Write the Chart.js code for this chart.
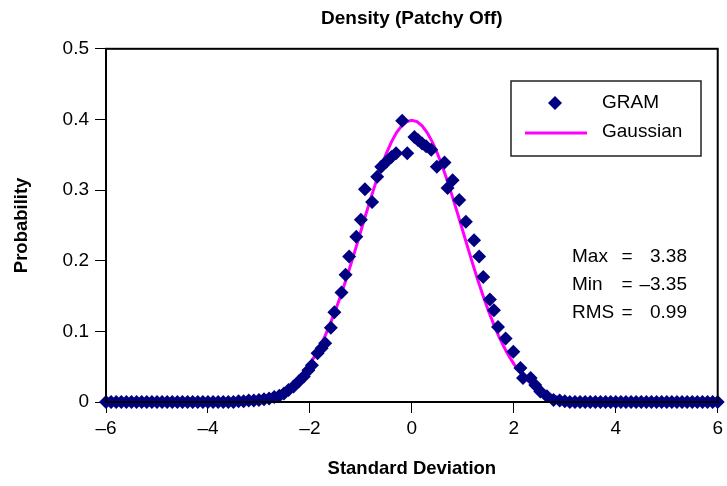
<!DOCTYPE html>
<html>
<head>
<meta charset="utf-8">
<title>Density (Patchy Off)</title>
<script src="https://cdn.jsdelivr.net/npm/chart.js@4.4.1/dist/chart.umd.min.js"></script>
<style>
  html, body { margin: 0; padding: 0; background: #fff; }
  #chart { display: block; }
</style>
</head>
<body>
<canvas id="chart" width="727" height="486"></canvas>
<script>
// GRAM histogram points
const gramX = [
    -6.0, -5.9, -5.8, -5.7, -5.6, -5.5, -5.4, -5.3, -5.2, -5.1,
    -5.0, -4.9, -4.8, -4.7, -4.6, -4.5, -4.4, -4.3, -4.2, -4.1,
    -4.0, -3.9, -3.8, -3.7, -3.6, -3.5, -3.4, -3.3, -3.2, -3.1,
    -3.0, -2.9, -2.8, -2.7, -2.6,
    -2.51, -2.42, -2.32, -2.22, -2.12, -2.03, -1.96, -1.85, -1.77, -1.70,
    -1.59, -1.52, -1.38, -1.30, -1.23, -1.09, -1.00, -0.92, -0.78, -0.68,
    -0.60, -0.50, -0.40, -0.31, -0.19, -0.09, 0.05, 0.12, 0.20, 0.28,
    0.38, 0.49, 0.64, 0.70, 0.80, 0.93, 1.06, 1.22, 1.32, 1.40,
    1.53, 1.61, 1.69, 1.84, 1.99, 2.13, 2.18, 2.33, 2.42, 2.52,
    2.65, 2.78,
    2.9, 3.0, 3.1, 3.2, 3.3, 3.4, 3.5, 3.6, 3.7, 3.8, 3.9,
    4.0, 4.1, 4.2, 4.3, 4.4, 4.5, 4.6, 4.7, 4.8, 4.9,
    5.0, 5.1, 5.2, 5.3, 5.4, 5.5, 5.6, 5.7, 5.8, 5.9, 6.0
];
const gramY = [
    0, 0, 0, 0, 0, 0, 0, 0, 0, 0,
    0, 0, 0, 0, 0, 0, 0, 0, 0, 0,
    0, 0, 0, 0, 0, 0, 0.001, 0.001, 0.002, 0.002,
    0.003, 0.004, 0.005, 0.007, 0.009,
    0.012, 0.017, 0.022, 0.029, 0.036, 0.045, 0.052, 0.069, 0.076, 0.083,
    0.105, 0.127, 0.155, 0.180, 0.206, 0.234, 0.258, 0.301, 0.283, 0.319,
    0.333, 0.340, 0.347, 0.352, 0.398, 0.352, 0.375, 0.371, 0.366, 0.362,
    0.357, 0.333, 0.339, 0.303, 0.314, 0.286, 0.255, 0.229, 0.206, 0.177,
    0.145, 0.130, 0.106, 0.090, 0.071, 0.048, 0.034, 0.034, 0.024, 0.015,
    0.008, 0.003,
    0.002, 0.001, 0, 0, 0, 0, 0, 0, 0, 0, 0,
    0, 0, 0, 0, 0, 0, 0, 0, 0, 0,
    0, 0, 0, 0, 0, 0, 0, 0, 0, 0, 0
];

// Gaussian reference curve
const gaussX = [
    -6.0,
    -4.0, -3.9, -3.8, -3.7, -3.6, -3.5, -3.4, -3.3, -3.2, -3.1,
    -3.0, -2.9, -2.8, -2.7, -2.6, -2.5, -2.4, -2.3, -2.2, -2.1,
    -2.0, -1.9, -1.8, -1.7, -1.6, -1.5, -1.4, -1.3, -1.2, -1.1,
    -1.0, -0.9, -0.8, -0.7, -0.6, -0.5, -0.4, -0.3, -0.2, -0.1,
    0.0,
    0.1, 0.2, 0.3, 0.4, 0.5, 0.6, 0.7, 0.8, 0.9, 1.0,
    1.1, 1.2, 1.3, 1.4, 1.5, 1.6, 1.7, 1.8, 1.9, 2.0,
    2.1, 2.2, 2.3, 2.4, 2.5, 2.6, 2.7, 2.8, 2.9, 3.0,
    3.1, 3.2, 3.3, 3.4, 3.5, 3.6, 3.7, 3.8, 3.9, 4.0,
    6.0
];
const gaussY = [
    0,
    0.0001, 0.0002, 0.0003, 0.0004, 0.0006, 0.0009, 0.0012, 0.0017, 0.0024, 0.0033,
    0.0044, 0.0060, 0.0079, 0.0104, 0.0136, 0.0175, 0.0224, 0.0283, 0.0355, 0.0440,
    0.0540, 0.0656, 0.0790, 0.0940, 0.1109, 0.1295, 0.1497, 0.1714, 0.1942, 0.2179,
    0.2420, 0.2661, 0.2897, 0.3123, 0.3332, 0.3521, 0.3683, 0.3814, 0.3910, 0.3970,
    0.3989,
    0.3970, 0.3910, 0.3814, 0.3683, 0.3521, 0.3332, 0.3123, 0.2897, 0.2661, 0.2420,
    0.2179, 0.1942, 0.1714, 0.1497, 0.1295, 0.1109, 0.0940, 0.0790, 0.0656, 0.0540,
    0.0440, 0.0355, 0.0283, 0.0224, 0.0175, 0.0136, 0.0104, 0.0079, 0.0060, 0.0044,
    0.0033, 0.0024, 0.0017, 0.0012, 0.0009, 0.0006, 0.0004, 0.0003, 0.0002, 0.0001,
    0
];

const xTickValues = [-6, -4, -2, 0, 2, 4, 6];
const yTickValues = [0, 0.1, 0.2, 0.3, 0.4, 0.5];

const statsLabels = ['Max', 'Min', 'RMS'];
const statsValues = ['3.38', '\u20133.35', '0.99'];

const FONT = "'Liberation Sans', Arial, sans-serif";
const NAVY = '#000080';
const MAGENTA = '#ff00ff';

Chart.defaults.font.family = FONT;
Chart.defaults.color = '#000';

// black frame drawn over the points, like the original plot box
const framePlugin = {
    id: 'frame',
    afterDatasetsDraw(chart) {
        const { ctx, chartArea: a } = chart;
        ctx.save();
        ctx.strokeStyle = '#000';
        ctx.lineWidth = 2;
        ctx.strokeRect(a.left, a.top, a.right - a.left, a.bottom - a.top);
        ctx.restore();
    }
};

// boxed legend + stats block inside the plot
const boxLegendPlugin = {
    id: 'boxLegend',
    afterDraw(chart) {
        const { ctx } = chart;
        const ds = chart.data.datasets;
        ctx.save();

        // legend box
        ctx.fillStyle = '#fff';
        ctx.fillRect(511, 81, 190, 75);
        ctx.strokeStyle = '#222';
        ctx.lineWidth = 1.5;
        ctx.strokeRect(511, 81, 190, 75);

        // GRAM marker
        const r = 7;
        ctx.fillStyle = ds[0].backgroundColor;
        ctx.beginPath();
        ctx.moveTo(555, 103 - r);
        ctx.lineTo(555 + r, 103);
        ctx.lineTo(555, 103 + r);
        ctx.lineTo(555 - r, 103);
        ctx.closePath();
        ctx.fill();

        // Gaussian line
        ctx.strokeStyle = ds[1].borderColor;
        ctx.lineWidth = 3;
        ctx.beginPath();
        ctx.moveTo(525, 133);
        ctx.lineTo(587, 133);
        ctx.stroke();

        ctx.fillStyle = '#000';
        ctx.font = '19px ' + FONT;
        ctx.textBaseline = 'middle';
        ctx.textAlign = 'left';
        ctx.fillText(ds[0].label, 602, 103);
        ctx.fillText(ds[1].label, 602, 132);

        // stats
        statsLabels.forEach((lab, i) => {
            const y = 257 + i * 28;
            ctx.textAlign = 'left';
            ctx.fillText(lab, 572, y);
            ctx.textAlign = 'center';
            ctx.fillText('=', 627, y);
            ctx.textAlign = 'right';
            ctx.fillText(statsValues[i], 687, y);
        });
        ctx.restore();
    }
};

const fmt = v => (v < 0 ? '\u2013' + Math.abs(v) : String(v));

new Chart(document.getElementById('chart').getContext('2d'), {
    type: 'scatter',
    data: {
        datasets: [
            {
                label: 'GRAM',
                data: gramX.map((x, i) => ({ x: x, y: gramY[i] })),
                pointStyle: 'rectRot',
                pointRadius: 7,
                pointBorderWidth: 0,
                backgroundColor: NAVY,
                borderColor: NAVY,
                showLine: false,
                clip: false,
                order: 0
            },
            {
                label: 'Gaussian',
                data: gaussX.map((x, i) => ({ x: x, y: gaussY[i] })),
                showLine: true,
                borderColor: MAGENTA,
                backgroundColor: MAGENTA,
                borderWidth: 3,
                pointRadius: 0,
                tension: 0,
                fill: false,
                order: 1
            }
        ]
    },
    options: {
        responsive: false,
        animation: false,
        devicePixelRatio: 1,
        layout: { padding: { left: 0, right: 5, top: 0, bottom: 0 } },
        plugins: {
            legend: { display: false },
            tooltip: { enabled: false },
            title: {
                display: true,
                fullSize: false,
                text: 'Density (Patchy Off)',
                color: '#000',
                font: { size: 19, weight: 'bold' },
                padding: { top: 7, bottom: 19 }
            }
        },
        scales: {
            x: {
                type: 'linear',
                min: -6,
                max: 6,
                afterBuildTicks: s => { s.ticks = xTickValues.map(v => ({ value: v })); },
                afterFit: s => { s.height = 84; },
                grid: { drawOnChartArea: false, drawTicks: true, tickLength: 11, color: '#000', lineWidth: 1 },
                border: { display: true, color: '#000', width: 2 },
                ticks: {
                    color: '#000',
                    font: { size: 19 },
                    padding: 4,
                    maxRotation: 0,
                    callback: v => fmt(v)
                },
                title: {
                    display: true,
                    text: 'Standard Deviation',
                    color: '#000',
                    font: { size: 18.5, weight: 'bold' },
                    padding: { top: 0, bottom: 6 }
                }
            },
            y: {
                type: 'linear',
                min: 0,
                max: 0.5,
                afterBuildTicks: s => { s.ticks = yTickValues.map(v => ({ value: v })); },
                afterFit: s => { s.width = 106; },
                grid: { drawOnChartArea: false, drawTicks: true, tickLength: 11, color: '#000', lineWidth: 1 },
                border: { display: true, color: '#000', width: 2 },
                ticks: {
                    color: '#000',
                    font: { size: 19 },
                    padding: 6,
                    callback: v => fmt(v)
                },
                title: {
                    display: true,
                    text: 'Probability',
                    color: '#000',
                    font: { size: 18.5, weight: 'bold' },
                    padding: { top: 11, bottom: 0 }
                }
            }
        }
    },
    plugins: [framePlugin, boxLegendPlugin]
});
</script>
</body>
</html>
